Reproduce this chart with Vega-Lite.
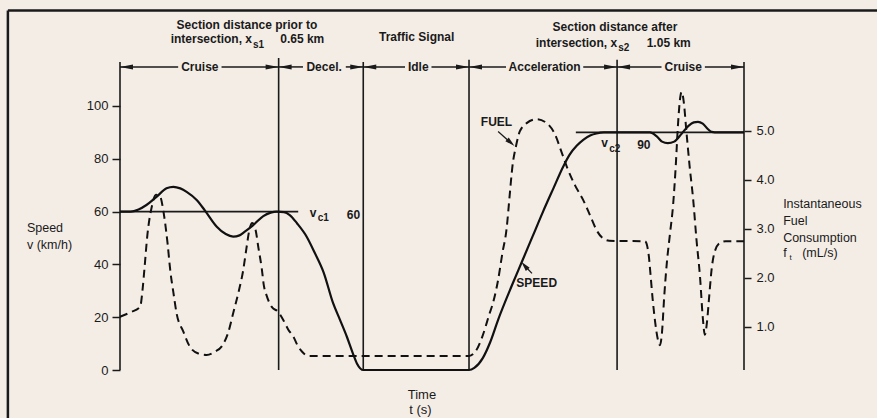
{
  "$schema": "https://vega.github.io/schema/vega-lite/v6.json",
  "width": 624,
  "height": 360,
  "autosize": {"type": "none"},
  "padding": {"left": 120, "top": 10, "right": 133, "bottom": 48},
  "background": "#f4ede6",
  "config": {
    "view": {"stroke": null},
    "font": "Liberation Sans",
    "axis": {"labelFont": "Liberation Sans", "labelFontSize": 13, "labelColor": "#1a1a1a", "tickColor": "#1a1a1a", "tickWidth": 1.5, "grid": false, "title": null}
  },
  "datasets": {
    "speed": [
      {"t": 0, "v": 60}, {"t": 2, "v": 60}, {"t": 3.5, "v": 60.8}, {"t": 5, "v": 62.5}, {"t": 6.9, "v": 65.6}, {"t": 8.8, "v": 68.8}, {"t": 10.1, "v": 69.4}, {"t": 11.4, "v": 68.8}, {"t": 12.6, "v": 67.5}, {"t": 14.5, "v": 64.4}, {"t": 16.1, "v": 60.3}, {"t": 18.3, "v": 54.3}, {"t": 20, "v": 51.5}, {"t": 21.4, "v": 50.5}, {"t": 22.6, "v": 51}, {"t": 23.6, "v": 52.4}, {"t": 25.2, "v": 54.9}, {"t": 27.1, "v": 58.3}, {"t": 28.5, "v": 59.6}, {"t": 29.6, "v": 60}, {"t": 31, "v": 59.8}, {"t": 32.1, "v": 58.7}, {"t": 33.5, "v": 55.5}, {"t": 35.3, "v": 50.5}, {"t": 36.8, "v": 44.5}, {"t": 38.5, "v": 37}, {"t": 40.3, "v": 25.3}, {"t": 41.6, "v": 19}, {"t": 42.9, "v": 12.6}, {"t": 44, "v": 6.5}, {"t": 44.8, "v": 2.5}, {"t": 46, "v": 0},
      {"t": 66, "v": 0}, {"t": 67, "v": 0.8}, {"t": 68.6, "v": 4.5}, {"t": 70, "v": 10.5}, {"t": 71.5, "v": 19}, {"t": 74.1, "v": 32}, {"t": 76, "v": 41}, {"t": 78, "v": 50.5}, {"t": 80, "v": 60}, {"t": 82, "v": 69}, {"t": 83.8, "v": 77}, {"t": 85, "v": 81.5}, {"t": 86.4, "v": 85}, {"t": 87.6, "v": 87.2}, {"t": 89, "v": 88.9}, {"t": 90.1, "v": 89.6}, {"t": 91.5, "v": 90},
      {"t": 100.2, "v": 90}, {"t": 101.5, "v": 88.5}, {"t": 102.5, "v": 86.5}, {"t": 103.6, "v": 85.9}, {"t": 104.8, "v": 86.5}, {"t": 106.2, "v": 89.5}, {"t": 107.5, "v": 92.5}, {"t": 108.5, "v": 93.8}, {"t": 109.3, "v": 94}, {"t": 110.2, "v": 93.3}, {"t": 111.2, "v": 91.2}, {"t": 111.9, "v": 90.2}, {"t": 113, "v": 90}, {"t": 118, "v": 90}
    ],
    "fuel": [
      {"t": 0, "f": 1.21}, {"t": 2, "f": 1.3}, {"t": 3.8, "f": 1.41}, {"t": 4.3, "f": 1.8}, {"t": 4.6, "f": 2.16}, {"t": 5.2, "f": 2.9}, {"t": 6, "f": 3.45}, {"t": 6.8, "f": 3.7}, {"t": 7.5, "f": 3.68}, {"t": 8.3, "f": 3.3}, {"t": 9.0, "f": 2.7}, {"t": 9.5, "f": 2.16}, {"t": 10.1, "f": 1.7}, {"t": 10.7, "f": 1.28}, {"t": 12, "f": 0.9}, {"t": 13.2, "f": 0.6}, {"t": 14.8, "f": 0.46}, {"t": 16.4, "f": 0.43}, {"t": 18, "f": 0.5}, {"t": 19.2, "f": 0.6}, {"t": 20.5, "f": 0.9}, {"t": 21.4, "f": 1.28}, {"t": 22.5, "f": 1.75}, {"t": 23.3, "f": 2.16}, {"t": 23.9, "f": 2.6}, {"t": 24.5, "f": 3.0}, {"t": 25.0, "f": 3.12}, {"t": 25.6, "f": 3.0}, {"t": 26.2, "f": 2.6}, {"t": 26.8, "f": 2.2}, {"t": 27.2, "f": 1.85}, {"t": 27.7, "f": 1.65}, {"t": 28.7, "f": 1.41}, {"t": 29.9, "f": 1.31}, {"t": 30.9, "f": 1.14}, {"t": 31.8, "f": 0.95}, {"t": 32.8, "f": 0.8}, {"t": 33.6, "f": 0.62}, {"t": 34.4, "f": 0.5}, {"t": 35.6, "f": 0.41},
      {"t": 66, "f": 0.41}, {"t": 66.8, "f": 0.45}, {"t": 67.4, "f": 0.53}, {"t": 68.5, "f": 0.8}, {"t": 69.7, "f": 1.21}, {"t": 70.8, "f": 1.6}, {"t": 71.5, "f": 1.96}, {"t": 72.3, "f": 2.5}, {"t": 73.1, "f": 3.0}, {"t": 73.7, "f": 3.7}, {"t": 74.2, "f": 4.27}, {"t": 74.9, "f": 4.7}, {"t": 75.6, "f": 4.99}, {"t": 76.9, "f": 5.16}, {"t": 78.8, "f": 5.24}, {"t": 80.7, "f": 5.16}, {"t": 82.3, "f": 4.92}, {"t": 83.4, "f": 4.6}, {"t": 84.5, "f": 4.27}, {"t": 86, "f": 3.9}, {"t": 87.6, "f": 3.59}, {"t": 89, "f": 3.25}, {"t": 90.1, "f": 2.98}, {"t": 91.2, "f": 2.82}, {"t": 92.5, "f": 2.76}, {"t": 99.3, "f": 2.75},
      {"t": 99.7, "f": 2.65}, {"t": 100.0, "f": 2.45}, {"t": 100.3, "f": 2.1}, {"t": 100.7, "f": 1.6}, {"t": 101.2, "f": 1.1}, {"t": 101.7, "f": 0.75}, {"t": 102.1, "f": 0.63}, {"t": 102.5, "f": 0.9}, {"t": 102.9, "f": 1.6}, {"t": 103.4, "f": 2.3}, {"t": 104, "f": 2.9}, {"t": 104.6, "f": 3.5}, {"t": 105.1, "f": 4.3}, {"t": 105.5, "f": 5.1}, {"t": 105.9, "f": 5.65}, {"t": 106.2, "f": 5.8}, {"t": 106.6, "f": 5.6}, {"t": 107.1, "f": 5.0}, {"t": 107.7, "f": 4.3}, {"t": 108.4, "f": 3.59}, {"t": 109, "f": 2.8}, {"t": 109.7, "f": 2.0}, {"t": 110.2, "f": 1.2}, {"t": 110.6, "f": 0.84}, {"t": 111.0, "f": 1.1}, {"t": 111.4, "f": 1.6}, {"t": 111.9, "f": 2.2}, {"t": 112.5, "f": 2.55}, {"t": 113.5, "f": 2.72}, {"t": 114.5, "f": 2.75}, {"t": 118, "f": 2.75}
    ],
    "vlines": [
      {"t": 0, "v": 0, "v2": 116.7}, {"t": 30, "v": 0, "v2": 118.2}, {"t": 46, "v": 0, "v2": 116.7}, {"t": 66, "v": 0, "v2": 117.5}, {"t": 94, "v": 0, "v2": 117.5}, {"t": 118, "v": 0, "v2": 116.7}
    ],
    "hlines": [
      {"t": 0, "t2": 33.7, "v": 60}, {"t": 86.2, "t2": 118, "v": 90}
    ],
    "frame": [
      {"t": -21.2, "t2": 160, "v": 136.2, "v2": 136.2},
      {"t": -21.2, "t2": -21.2, "v": 136.2, "v2": -20}
    ],
    "phaseSegs": [
      {"t": 0, "t2": 11.0, "v": 114.8}, {"t": 19.2, "t2": 30, "v": 114.8},
      {"t": 30, "t2": 34.6, "v": 114.8}, {"t": 42.7, "t2": 46, "v": 114.8},
      {"t": 46, "t2": 53.9, "v": 114.8}, {"t": 58.9, "t2": 66, "v": 114.8},
      {"t": 66, "t2": 73.0, "v": 114.8}, {"t": 87.6, "t2": 94, "v": 114.8},
      {"t": 94, "t2": 102.4, "v": 114.8}, {"t": 110.6, "t2": 118, "v": 114.8}
    ],
    "headsL": [
      {"t": 1.23, "v": 114.8}, {"t": 31.23, "v": 114.8}, {"t": 47.23, "v": 114.8}, {"t": 67.23, "v": 114.8}, {"t": 95.23, "v": 114.8}
    ],
    "headsR": [
      {"t": 28.77, "v": 114.8}, {"t": 44.77, "v": 114.8}, {"t": 64.77, "v": 114.8}, {"t": 92.77, "v": 114.8}, {"t": 116.77, "v": 114.8}
    ],
    "pointers": [
      {"t": 71.5, "t2": 74.0, "v": 90.3, "v2": 85.9},
      {"t": 77.9, "t2": 76.5, "v": 36.6, "v2": 39.6}
    ],
    "fuelHead": [{"t": 73.9, "v": 86.1}],
    "speedHead": [{"t": 76.5, "v": 39.6}],
    "boldC": [
      {"t": 24.0, "v": 130.7, "label": "Section distance prior to"},
      {"t": 56.1, "v": 126.0, "label": "Traffic Signal"},
      {"t": 93.6, "v": 130.0, "label": "Section distance after"},
      {"t": 15.1, "v": 114.8, "label": "Cruise"},
      {"t": 38.6, "v": 114.8, "label": "Decel."},
      {"t": 56.4, "v": 114.8, "label": "Idle"},
      {"t": 80.3, "v": 114.8, "label": "Acceleration"},
      {"t": 106.5, "v": 114.8, "label": "Cruise"},
      {"t": 71.2, "v": 94.0, "label": "FUEL"},
      {"t": 78.8, "v": 32.8, "label": "SPEED"}
    ],
    "boldR": [
      {"t": 24.96, "v": 125.3, "label": "intersection, x"},
      {"t": 94.0, "v": 124.0, "label": "intersection, x"}
    ],
    "boldL": [
      {"t": 30.3, "v": 125.3, "label": "0.65 km"},
      {"t": 99.6, "v": 124.0, "label": "1.05 km"},
      {"t": 35.9, "v": 59.5, "label": "v"},
      {"t": 42.9, "v": 58.7, "label": "60"},
      {"t": 91.0, "v": 85.9, "label": "v"},
      {"t": 97.8, "v": 85.2, "label": "90"}
    ],
    "subs": [
      {"t": 25.15, "v": 123.2, "label": "s1"},
      {"t": 94.2, "v": 121.9, "label": "s2"},
      {"t": 37.4, "v": 57.6, "label": "c1"},
      {"t": 92.5, "v": 83.7, "label": "c2"}
    ],
    "titlesL": [
      {"t": -17.6, "v": 53.9, "label": "Speed"},
      {"t": -17.6, "v": 47.3, "label": "v  (km/h)"},
      {"t": 125.4, "v": 62.8, "label": "Instantaneous"},
      {"t": 125.4, "v": 56.4, "label": "Fuel"},
      {"t": 125.4, "v": 50.1, "label": "Consumption"},
      {"t": 125.4, "v": 44.2, "label": "f"},
      {"t": 129.0, "v": 44.2, "label": "(mL/s)"}
    ],
    "titleSub": [{"t": 126.6, "v": 42.6, "label": "t"}],
    "titlesC": [
      {"t": 57.1, "v": -9.5, "label": "Time"},
      {"t": 56.8, "v": -15.2, "label": "t (s)"}
    ]
  },
  "layer": [
    {
      "encoding": {
        "x": {"field": "t", "type": "quantitative", "scale": {"domain": [0, 118], "nice": false, "zero": false},
              "axis": {"values": [30, 46, 66, 94, 118], "title": null, "ticks": false, "tickSize": 0, "labelPadding": 11, "domainColor": "#1a1a1a", "domainWidth": 2, "grid": false}},
        "y": {"field": "v", "type": "quantitative", "scale": {"domain": [0, 136.3636], "nice": false, "zero": false},
              "axis": {"values": [0, 20, 40, 60, 80, 100], "title": null, "domain": false, "grid": false, "tickSize": 8, "labelPadding": 4}}
      },
      "layer": [
        {"data": {"name": "frame"}, "mark": {"type": "rule", "color": "#1a1a1a", "strokeWidth": 2.5},
         "encoding": {"x2": {"field": "t2"}, "y2": {"field": "v2"}}},
        {"data": {"name": "vlines"}, "mark": {"type": "rule", "color": "#1a1a1a", "strokeWidth": 1.6},
         "encoding": {"y2": {"field": "v2"}}},
        {"data": {"name": "hlines"}, "mark": {"type": "rule", "color": "#1a1a1a", "strokeWidth": 1.6},
         "encoding": {"x2": {"field": "t2"}}},
        {"data": {"name": "phaseSegs"}, "mark": {"type": "rule", "color": "#1a1a1a", "strokeWidth": 1.5},
         "encoding": {"x2": {"field": "t2"}}},
        {"data": {"name": "headsL"}, "mark": {"type": "point", "shape": "M-1,0 L1,-0.38 L1,0.38 Z", "size": 169, "filled": true, "opacity": 1, "color": "#1a1a1a"}},
        {"data": {"name": "headsR"}, "mark": {"type": "point", "shape": "M1,0 L-1,-0.38 L-1,0.38 Z", "size": 169, "filled": true, "opacity": 1, "color": "#1a1a1a"}},
        {"data": {"name": "pointers"}, "mark": {"type": "rule", "color": "#1a1a1a", "strokeWidth": 1.3},
         "encoding": {"x2": {"field": "t2"}, "y2": {"field": "v2"}}},
        {"data": {"name": "fuelHead"}, "mark": {"type": "point", "shape": "M0,-1 L0.5,1 L-0.5,1 Z", "size": 100, "angle": 132, "filled": true, "opacity": 1, "color": "#1a1a1a"}},
        {"data": {"name": "speedHead"}, "mark": {"type": "point", "shape": "M0,-1 L0.5,1 L-0.5,1 Z", "size": 100, "angle": 320, "filled": true, "opacity": 1, "color": "#1a1a1a"}},
        {"data": {"name": "speed"}, "mark": {"type": "line", "color": "#111111", "strokeWidth": 2.2, "interpolate": "monotone"}},
        {"data": {"name": "boldC"}, "mark": {"type": "text", "font": "Liberation Sans", "fontWeight": "bold", "fontSize": 12, "align": "center", "baseline": "middle", "color": "#1a1a1a"},
         "encoding": {"text": {"field": "label"}}},
        {"data": {"name": "boldR"}, "mark": {"type": "text", "font": "Liberation Sans", "fontWeight": "bold", "fontSize": 12, "align": "right", "baseline": "middle", "color": "#1a1a1a"},
         "encoding": {"text": {"field": "label"}}},
        {"data": {"name": "boldL"}, "mark": {"type": "text", "font": "Liberation Sans", "fontWeight": "bold", "fontSize": 12, "align": "left", "baseline": "middle", "color": "#1a1a1a"},
         "encoding": {"text": {"field": "label"}}},
        {"data": {"name": "subs"}, "mark": {"type": "text", "font": "Liberation Sans", "fontWeight": "bold", "fontSize": 10, "align": "left", "baseline": "middle", "color": "#1a1a1a"},
         "encoding": {"text": {"field": "label"}}},
        {"data": {"name": "titlesL"}, "mark": {"type": "text", "font": "Liberation Sans", "fontSize": 12.5, "align": "left", "baseline": "middle", "color": "#1a1a1a"},
         "encoding": {"text": {"field": "label"}}},
        {"data": {"name": "titleSub"}, "mark": {"type": "text", "font": "Liberation Sans", "fontSize": 8, "align": "left", "baseline": "middle", "color": "#1a1a1a"},
         "encoding": {"text": {"field": "label"}}},
        {"data": {"name": "titlesC"}, "mark": {"type": "text", "font": "Liberation Sans", "fontSize": 13, "align": "center", "baseline": "middle", "color": "#1a1a1a"},
         "encoding": {"text": {"field": "label"}}}
      ]
    },
    {
      "data": {"name": "fuel"},
      "mark": {"type": "line", "color": "#111111", "strokeWidth": 2, "strokeDash": [8, 5], "interpolate": "monotone"},
      "encoding": {
        "x": {"field": "t", "type": "quantitative", "scale": {"domain": [0, 118], "nice": false, "zero": false}, "axis": null},
        "y": {"field": "f", "type": "quantitative", "scale": {"domain": [0.1224, 7.4694], "nice": false, "zero": false},
              "axis": {"orient": "right", "values": [1, 2, 3, 4, 5], "format": ".1f", "title": null, "domain": false, "grid": false, "tickSize": 7, "labelPadding": 5}}
      }
    }
  ],
  "resolve": {"scale": {"y": "independent"}}
}
